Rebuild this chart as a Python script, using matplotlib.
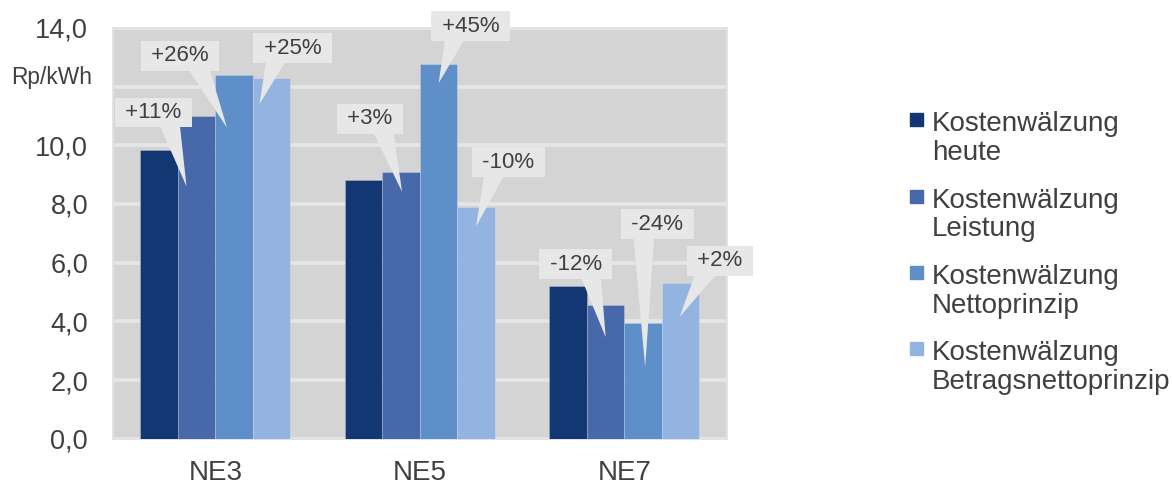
import numpy as np
import matplotlib
matplotlib.use('Agg')
import matplotlib.pyplot as plt
from matplotlib.patches import Rectangle
from matplotlib.transforms import blended_transform_factory

plt.rcParams['font.family'] = ['Liberation Sans', 'DejaVu Sans']

categories = ['NE3', 'NE5', 'NE7']
series_names = ['Kostenwälzung\nheute', 'Kostenwälzung\nLeistung',
                'Kostenwälzung\nNettoprinzip', 'Kostenwälzung\nBetragsnettoprinzip']
heute = [9.85, 8.80, 5.21]
leistung = [10.98, 9.09, 4.55]
netto = [12.40, 12.76, 3.94]
betrag = [12.29, 7.88, 5.31]
labels_leistung = ['+11%', '+3%', '-12%']
labels_netto = ['+26%', '+45%', '-24%']
labels_betrag = ['+25%', '-10%', '+2%']
yticks = [0, 2, 4, 6, 8, 10, 12, 14]

colors = ['#133772', '#4769a9', '#5e8fc9', '#93b3e0']
txt_col = '#404040'
box_col = '#e7e7e7'

fig = plt.figure(figsize=(11.72, 4.84), dpi=100)
ax = fig.add_axes([113/1172, 1-438.7/484, 613.7/1172, 410.9/484])
ax.set_facecolor('#d4d4d4')

x = np.arange(len(categories))
w = 0.1833
series = [heute, leistung, netto, betrag]
for j, vals in enumerate(series):
    ax.bar(x + (j - 1.5) * w, vals, w, color=colors[j],
           edgecolor=(1, 1, 1, 0.25), linewidth=0.6, zorder=3)

ax.set_xlim(-0.5, 2.5)
ax.set_ylim(0, 14)
ax.set_yticks(yticks)
ax.set_yticklabels(['' if v == 12 else ('%.1f' % v).replace('.', ',') for v in yticks])
ax.set_xticks(x)
ax.set_xticklabels(categories)
ax.tick_params(length=0, colors=txt_col)
ax.tick_params(axis='y', pad=18, labelsize=19.5)
ax.tick_params(axis='x', pad=15, labelsize=20)
ax.grid(axis='y', color='#e6e6e6', linewidth=2.6, zorder=0)
ax.set_axisbelow(True)
for s in ax.spines.values():
    s.set_color('#e2e2e2')
    s.set_linewidth(1.5)

trans = blended_transform_factory(ax.transAxes, ax.transData)
ax.text(-0.0342, 12.3, 'Rp/kWh', transform=trans, ha='right', va='center',
        fontsize=16.4, color=txt_col)

# callouts: (tip dx px, tip dy px below top, box offset px, relpos x)
px_x = 204.6   # px per category
px_y = 29.33   # px per unit
callouts = {
    (0, 1): (-10, 70, (-33, 74), 0.71),
    (0, 2): (-7, 53, (-47, 72), 0.72),
    (0, 3): (-12, 26, (33, 56), 0.30),
    (1, 1): (1, 20, (-32, 73), 0.69),
    (1, 2): (0, 19, (32, 57), 0.31),
    (1, 3): (0, 19, (32, 64), 0.32),
    (2, 1): (0, 32, (-30, 73), 0.71),
    (2, 2): (2, 44, (12, 143), 0.29),
    (2, 3): (-1, 34, (40, 56), 0.33),
}
label_sets = {1: labels_leistung, 2: labels_netto, 3: labels_betrag}
for (i, j), (dx, dy, off, rx) in callouts.items():
    xc = x[i] + (j - 1.5) * w + dx / px_x
    yc = series[j][i] - dy / px_y
    ax.annotate(' ' + label_sets[j][i] + ' ', xy=(xc, yc),
                xytext=(off[0] * 0.72, off[1] * 0.72), textcoords='offset points',
                ha='center', va='center', fontsize=16, color=txt_col, zorder=5,
                bbox=dict(boxstyle='square,pad=0.2', fc=box_col, ec='none'),
                arrowprops=dict(arrowstyle='wedge,tail_width=1.0', fc=box_col, ec='none',
                                relpos=(rx, 0.3), patchA=None, shrinkA=0, shrinkB=0))

# legend
for j, name in enumerate(series_names):
    base = 128.3 + 76.3 * j
    fig.text(931.7/1172, 1 - (base + 31.7)/484, name, ha='left', va='baseline',
             fontsize=20, color=txt_col, linespacing=1.14)
    fig.add_artist(Rectangle((910/1172, 1 - (base - 2)/484), 13/1172, 13/484,
                             transform=fig.transFigure, color=colors[j]))

fig.savefig('out.png', dpi=100)
